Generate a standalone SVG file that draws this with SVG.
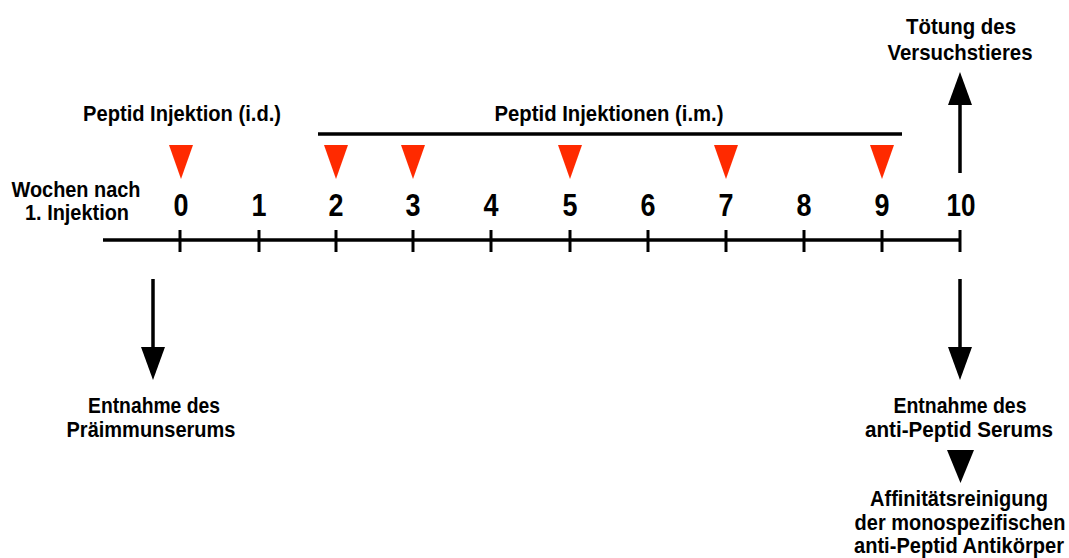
<svg xmlns="http://www.w3.org/2000/svg" width="1069" height="558" viewBox="0 0 1069 558">
  <style>
    text { font-family: "Liberation Sans Narrow", "Liberation Sans", Arial, sans-serif; font-weight: bold; fill: #000; text-anchor: middle; }
    .lbl { font-size: 22.5px; }
    .num { font-size: 31px; }
    .line { stroke: #000; stroke-width: 3.5; fill: none; }
    .tick { stroke: #000; stroke-width: 3; }
    .inj { fill: #ff2a00; }
    .head { fill: #000; }
  </style>

  <!-- time axis with weekly ticks -->
  <g id="axis">
    <line class="line" x1="103" y1="240" x2="960" y2="240" stroke-width="3"/>
    <g class="tick">
      <line x1="180" y1="230" x2="180" y2="252"/>
      <line x1="259" y1="230" x2="259" y2="252"/>
      <line x1="336" y1="230" x2="336" y2="252"/>
      <line x1="413" y1="230" x2="413" y2="252"/>
      <line x1="491" y1="230" x2="491" y2="252"/>
      <line x1="570" y1="230" x2="570" y2="252"/>
      <line x1="648" y1="230" x2="648" y2="252"/>
      <line x1="726" y1="230" x2="726" y2="252"/>
      <line x1="804" y1="230" x2="804" y2="252"/>
      <line x1="882" y1="230" x2="882" y2="252"/>
      <line x1="960" y1="230" x2="960" y2="252"/>
    </g>
    <g class="num">
      <text x="181" y="216" textLength="15" lengthAdjust="spacingAndGlyphs">0</text>
      <text x="259" y="216" textLength="15" lengthAdjust="spacingAndGlyphs">1</text>
      <text x="336" y="216" textLength="15" lengthAdjust="spacingAndGlyphs">2</text>
      <text x="413" y="216" textLength="15" lengthAdjust="spacingAndGlyphs">3</text>
      <text x="491" y="216" textLength="15" lengthAdjust="spacingAndGlyphs">4</text>
      <text x="570" y="216" textLength="15" lengthAdjust="spacingAndGlyphs">5</text>
      <text x="648" y="216" textLength="15" lengthAdjust="spacingAndGlyphs">6</text>
      <text x="726" y="216" textLength="15" lengthAdjust="spacingAndGlyphs">7</text>
      <text x="804" y="216" textLength="15" lengthAdjust="spacingAndGlyphs">8</text>
      <text x="882" y="216" textLength="15" lengthAdjust="spacingAndGlyphs">9</text>
      <text x="961" y="216" textLength="29" lengthAdjust="spacingAndGlyphs">10</text>
    </g>
  </g>

  <g id="axis-label">
    <text class="lbl" x="76" y="197" textLength="129" lengthAdjust="spacingAndGlyphs">Wochen nach</text>
    <text class="lbl" x="77" y="220" textLength="104" lengthAdjust="spacingAndGlyphs">1. Injektion</text>
  </g>

  <!-- injection markers -->
  <g id="injection-id">
    <text class="lbl" x="182" y="121" textLength="198" lengthAdjust="spacingAndGlyphs">Peptid Injektion (i.d.)</text>
    <polygon class="inj" points="169,145 193,145 181,179"/>
  </g>

  <g id="injections-im">
    <text class="lbl" x="609" y="121" textLength="229" lengthAdjust="spacingAndGlyphs">Peptid Injektionen (i.m.)</text>
    <line class="line" x1="318" y1="134" x2="902" y2="134" stroke-width="3"/>
    <polygon class="inj" points="324,145 348,145 336,179"/>
    <polygon class="inj" points="401,145 425,145 413,179"/>
    <polygon class="inj" points="558,145 582,145 570,179"/>
    <polygon class="inj" points="714,145 738,145 726,179"/>
    <polygon class="inj" points="870,145 894,145 882,179"/>
  </g>

  <!-- sampling and end of experiment -->
  <g id="connectors">
    <line class="line" x1="153" y1="279" x2="153" y2="350"/>
    <polygon class="head" points="141,347 165,347 153,380"/>
    <line class="line" x1="960" y1="279" x2="960" y2="350"/>
    <polygon class="head" points="948,347 972,347 960,380"/>
    <line class="line" x1="960" y1="173" x2="960" y2="102"/>
    <polygon class="head" points="948,105 972,105 960,72"/>
    <polygon class="head" points="947,450 974,450 960.5,483"/>
  </g>

  <g id="preimmune-serum">
    <text class="lbl" x="154" y="413" textLength="132" lengthAdjust="spacingAndGlyphs">Entnahme des</text>
    <text class="lbl" x="151" y="437" textLength="169" lengthAdjust="spacingAndGlyphs">Präimmunserums</text>
  </g>

  <g id="sacrifice">
    <text class="lbl" x="961" y="34" textLength="110" lengthAdjust="spacingAndGlyphs">Tötung des</text>
    <text class="lbl" x="960" y="60" textLength="145" lengthAdjust="spacingAndGlyphs">Versuchstieres</text>
  </g>

  <g id="antiserum">
    <text class="lbl" x="960" y="413" textLength="133" lengthAdjust="spacingAndGlyphs">Entnahme des</text>
    <text class="lbl" x="959" y="437" textLength="188" lengthAdjust="spacingAndGlyphs">anti-Peptid Serums</text>
  </g>

  <!-- the two widest lines are condensed horizontally so they stay inside the right edge -->
  <g id="affinity-purification">
    <text class="lbl" x="959" y="506" textLength="178" lengthAdjust="spacingAndGlyphs">Affinitätsreinigung</text>
    <text class="lbl" transform="translate(960,530) scale(0.84,1)" x="0" y="0" textLength="251" lengthAdjust="spacingAndGlyphs">der monospezifischen</text>
    <text class="lbl" transform="translate(959,553) scale(0.84,1)" x="0" y="0" textLength="250" lengthAdjust="spacingAndGlyphs">anti-Peptid Antikörper</text>
  </g>
</svg>
